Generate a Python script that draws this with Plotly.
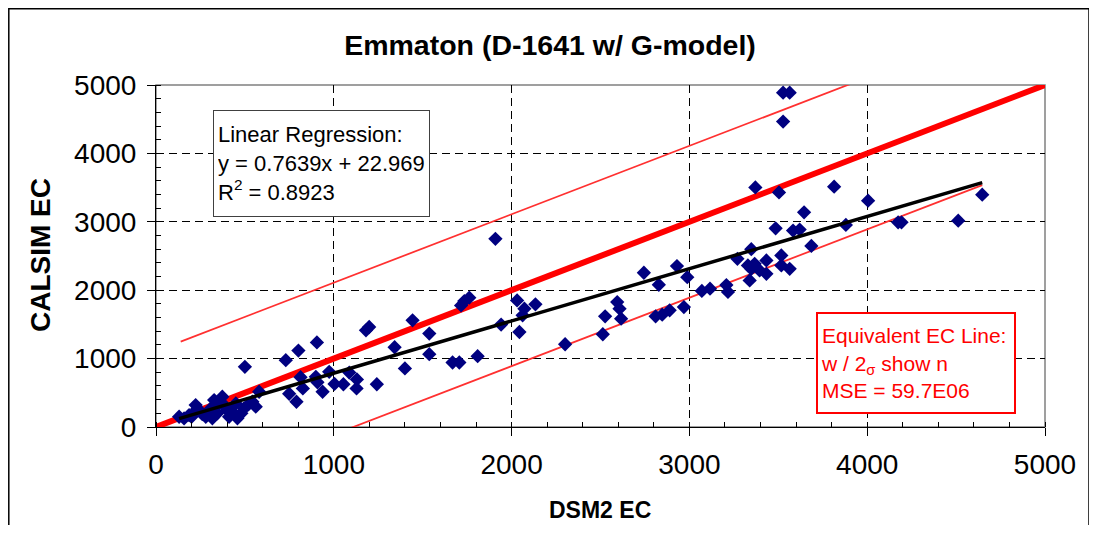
import plotly.graph_objects as go

# ---- data ----
dsm2_ec = [
    130, 158, 186, 223, 251, 280, 308, 327, 345, 317, 373, 392, 411, 430, 449, 458, 495, 542, 561, 580,
    200, 260, 350, 400, 440, 480, 520, 230, 500,
    730, 801, 905, 813, 749, 790, 826, 899, 908, 937, 974, 1004, 1054, 1087, 1130, 1128, 1181, 1199, 1242,
    1342, 1400, 1443, 1537, 1537,
    1668, 1706, 1809, 1909, 1716, 1734, 1762, 1941, 2031, 2044, 2072, 2062, 2134, 2301, 2513, 2526, 2594,
    2607, 2616, 2744, 2828, 2810, 2847, 2889, 2930, 2988, 2969, 3070, 3116, 3208, 3217, 3270,
    3527, 3564, 3527, 3371, 3504, 3814, 4005, 4647, 3645, 3485, 3583, 3620, 3880, 4174, 4193, 4512, 3686,
    3348, 3329, 3339, 3367, 3395, 3433, 3433, 3517, 3517, 3564, 3348,
]
calsim_ec = [
    150, 125, 175, 321, 223, 150, 272, 394, 200, 127, 443, 297, 150, 223, 345, 127, 272, 369, 297, 515,
    150, 190, 330, 250, 190, 200, 330, 260, 880,
    977, 1118, 1237, 729, 486, 369, 564, 734, 653, 515, 806, 630, 625, 795, 695, 564, 1414, 1462, 625,
    1166, 856, 1560, 1366, 1064,
    943, 943, 1035, 2751, 1778, 1841, 1890, 1497, 1851, 1389, 1730, 1633, 1793, 1210, 1356, 1618, 1827,
    1730, 1584, 2255, 2080, 1618, 1642, 1706, 2352, 2191, 1754, 1990, 2022, 2075, 1975, 2459,
    4888, 4888, 4465, 3503, 3430, 3513, 3309, 3397, 3139, 2905, 2872, 2886, 2954, 2993, 2993, 3017, 2648,
    2600, 2362, 2143, 2386, 2289, 2435, 2240, 2508, 2362, 2313, 2313,
]

reg_slope = 0.7639
reg_intercept = 22.969
reg_r2 = 0.8923

equiv_x = [0, 5000]
band_offset = 1110           # 2-sigma offset of the equivalent EC line
band_upper_x = [139, 3960]
band_lower_x = [1000, 4647]

axis_ticks = [0, 1000, 2000, 3000, 4000, 5000]
title_text = "Emmaton (D-1641 w/ G-model)"
x_title = "DSM2 EC"
y_title = "CALSIM EC"

# ---- derived lines ----
reg_x = [min(dsm2_ec), max(dsm2_ec)]
reg_y = [reg_slope * v + reg_intercept for v in reg_x]
equiv_y = list(equiv_x)
band_upper_y = [v + band_offset for v in band_upper_x]
band_lower_y = [v - band_offset for v in band_lower_x]

FONT = "Liberation Sans, Arial, sans-serif"

# figure sits at an 8px page offset; geometry below is in figure pixels
W, H = 1081, 517
L, R, T, B = 148, 44, 77, 98
PW, PH = W - L - R, H - T - B


def px_x(p):
    return (p - L) / PW


def px_y(p):
    return (H - B - p) / PH


fig = go.Figure()
fig.add_trace(go.Scatter(x=band_upper_x, y=band_upper_y, mode="lines",
                         line=dict(color="#FF3030", width=1.75), showlegend=False, hoverinfo="skip"))
fig.add_trace(go.Scatter(x=band_lower_x, y=band_lower_y, mode="lines",
                         line=dict(color="#FF3030", width=1.75), showlegend=False, hoverinfo="skip"))
fig.add_trace(go.Scatter(x=equiv_x, y=equiv_y, mode="lines",
                         line=dict(color="#FF0000", width=6), showlegend=False, hoverinfo="skip"))
fig.add_trace(go.Scatter(x=dsm2_ec, y=calsim_ec, mode="markers",
                         marker=dict(symbol="diamond", size=11, color="#000080",
                                     line=dict(width=0)),
                         showlegend=False))
fig.add_trace(go.Scatter(x=reg_x, y=reg_y, mode="lines",
                         line=dict(color="black", width=3.5), showlegend=False, hoverinfo="skip"))

axis_common = dict(
    range=[0, 5000], tickvals=axis_ticks, ticktext=[str(t) for t in axis_ticks],
    showline=True, linecolor="black", linewidth=1,
    ticks="outside", ticklen=8, tickcolor="black", tickwidth=1,
    minor=dict(dtick=200, ticks="inside", ticklen=5, tickcolor="black", showgrid=False),
    showgrid=True, gridcolor="black", griddash="8px,5px", gridwidth=1,
    zeroline=False, tickfont=dict(family=FONT, size=28, color="black"),
    fixedrange=True, automargin=False,
)

fig.update_layout(
    width=W, height=H,
    margin=dict(l=L, r=R, t=T, b=B, autoexpand=False),
    paper_bgcolor="white", plot_bgcolor="white",
    title=dict(text="<b>" + title_text + "</b>", x=542 / W, xref="container", xanchor="center",
               y=1 - 37 / H, yref="container", yanchor="middle",
               font=dict(family=FONT, size=28.5, color="black")),
    xaxis=dict(axis_common, ticklabelstandoff=4),
    yaxis=dict(axis_common, ticklabelstandoff=5),
    shapes=[
        dict(type="rect", xref="paper", yref="paper", x0=0, x1=1, y0=0, y1=1,
             line=dict(color="#808080", width=1.5), layer="below"),
        dict(type="rect", xref="paper", yref="paper",
             x0=px_x(0.8), x1=px_x(1081), y0=px_y(560), y1=px_y(0.8),
             line=dict(color="black", width=1.5), layer="below"),
    ],
    annotations=[
        dict(xref="paper", yref="paper", x=px_x(592), y=px_y(502),
             xanchor="center", yanchor="middle", showarrow=False,
             text="<b>" + x_title + "</b>", font=dict(family=FONT, size=23, color="black")),
        dict(xref="paper", yref="paper", x=px_x(32), y=px_y(247),
             xanchor="center", yanchor="middle", showarrow=False, textangle=-90,
             text="<b>" + y_title + "</b>", font=dict(family=FONT, size=28, color="black")),
        dict(xref="paper", yref="paper", x=px_x(205), y=px_y(102),
             xanchor="left", yanchor="top", align="left", valign="middle", showarrow=False,
             width=207, height=97,
             text="Linear Regression:<br>y = %.4fx + %.3f<br>R<sup>2</sup> = %.4f" % (reg_slope, reg_intercept, reg_r2),
             font=dict(family=FONT, size=22, color="black"),
             bgcolor="white", bordercolor="#404040", borderwidth=1, borderpad=4),
        dict(xref="paper", yref="paper", x=px_x(808), y=px_y(304),
             xanchor="left", yanchor="top", align="left", valign="middle", showarrow=False,
             width=190, height=92,
             text="Equivalent EC Line:<br>w / 2<sub>σ</sub> show n<br>MSE = 59.7E06",
             font=dict(family=FONT, size=21, color="#FF0000"),
             bgcolor="white", bordercolor="#FF0000", borderwidth=2, borderpad=3),
    ],
)

fig.write_html("out.html")
